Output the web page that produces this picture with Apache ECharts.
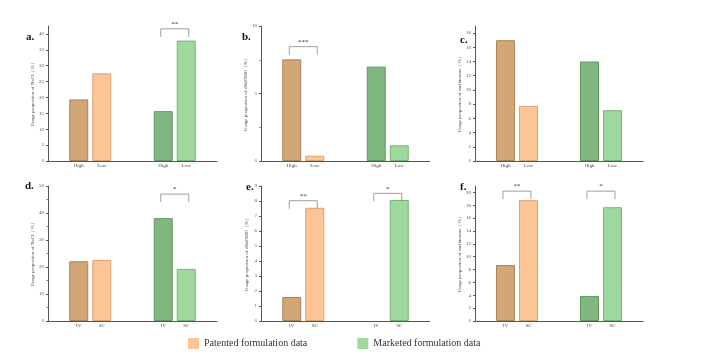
<!DOCTYPE html>
<html><head><meta charset="utf-8">
<script src="https://cdn.jsdelivr.net/npm/echarts@6/dist/echarts.min.js"></script>
<style>html,body{margin:0;padding:0;background:#fff}#c{width:705px;height:360px}</style>
</head><body><div id="c"></div>
<script>
// ---- data ----
const groupCats = ['Patented', 'Marketed'];
const levelCats = ['High', 'Low'];
const routeCats = ['IV', 'SC'];
const panelLetters = ['a.', 'b.', 'c.', 'd.', 'e.', 'f.'];
const axisNames = [
  'Usage proportion of NaCl（%）',
  'Usage proportion of rHuPH20（%）',
  'Usage proportion of methionine（%）',
  'Usage proportion of NaCl（%）',
  'Usage proportion of rHuPH20（%）',
  'Usage proportion of methionine（%）'
];
// first bar of each pair (High / IV), for [patented, marketed]
const aFirst = [19.4, 15.7];  const aSecond = [27.6, 37.9];
const bFirst = [7.53, 6.99];  const bSecond = [0.39, 1.16];
const cFirst = [17.0, 14.0];  const cSecond = [7.76, 7.15];
const dFirst = [22.1, 38.1];  const dSecond = [22.6, 19.3];
const eFirst = [1.6, 0];      const eSecond = [7.55, 8.07];
const fFirst = [8.7, 3.9];    const fSecond = [18.8, 17.7];
const yMax = [42.5, 10, 19, 50, 9, 21];
const yStep = [5, 5, 2, 10, 1, 2];
// significance brackets: [panel, group index, level, label]
const sigPanel = [0, 1, 3, 4, 4, 5, 5];
const sigGroup = [1, 0, 1, 0, 1, 0, 1];
const sigLevel = [41.6, 8.47, 47.0, 8.02, 8.51, 20.2, 20.2];
const sigText = ['**', '***', '*', '**', '*', '**', '*'];
const legendNames = ['Patented formulation data', 'Marketed formulation data'];

// ---- layout/styles ----
const firsts = [aFirst, bFirst, cFirst, dFirst, eFirst, fFirst];
const seconds = [aSecond, bSecond, cSecond, dSecond, eSecond, fSecond];
const font = 'Liberation Serif';
const lefts = [48, 261, 475];
const widths = [169, 169, 168];
const tops = [26, 186];
const H = 135;
const fillDark = ['#d3a676', '#80b781'];
const borderDark = ['#a9845c', '#5f9a60'];
const fillLight = ['#fdc595', '#9fd89d'];
const borderLight = ['#dba274', '#74b474'];
const BW = 19, GAP = 4;

const grids = [], xAxes = [], yAxes = [], series = [], titles = [];
const titlePos = [[21, 27], [237, 27], [455, 30], [20, 176], [241, 177], [455, 177]];
for (let i = 0; i < 6; i++) {
  const col = i % 3, row = Math.floor(i / 3);
  grids.push({ left: lefts[col], top: tops[row], width: widths[col], height: H });
  xAxes.push({
    gridIndex: i, type: 'category', data: groupCats, boundaryGap: true,
    axisLine: { lineStyle: { color: '#555', width: 1 } },
    axisTick: { show: false }, axisLabel: { show: false }
  });
  yAxes.push({
    gridIndex: i, type: 'value', min: 0, max: yMax[i], interval: yStep[i],
    name: axisNames[i], nameLocation: 'middle', nameGap: 12, nameRotate: 90,
    nameTextStyle: { fontSize: 5, fontFamily: font, color: '#444' },
    axisLine: { show: true, lineStyle: { color: '#555', width: 1 } },
    axisTick: { show: true, length: 2, lineStyle: { color: '#555' } },
    minorTick: { show: (i === 1 || i === 3), splitNumber: 2, length: 1.5, lineStyle: { color: '#777' } },
    axisLabel: { fontSize: 5, fontFamily: font, color: '#555', margin: 4, showMaxLabel: (yMax[i] % yStep[i] === 0) },
    splitLine: { show: false }
  });
  const cats = row === 0 ? levelCats : routeCats;
  series.push({
    type: 'bar', xAxisIndex: i, yAxisIndex: i, barWidth: BW, barGap: (GAP / BW * 100) + '%',
    data: firsts[i].map((v, g) => ({ value: v, itemStyle: { color: fillDark[g], borderColor: borderDark[g], borderWidth: v > 0 ? 1 : 0 } })),
    label: { show: true, position: 'bottom', distance: 2, formatter: () => cats[0], fontSize: 5, fontFamily: font, color: '#444' },
    silent: true, animation: false
  });
  series.push({
    type: 'bar', xAxisIndex: i, yAxisIndex: i, barWidth: BW, barGap: (GAP / BW * 100) + '%',
    data: seconds[i].map((v, g) => ({ value: v, itemStyle: { color: fillLight[g], borderColor: borderLight[g], borderWidth: v > 0 ? 1 : 0 } })),
    label: { show: true, position: 'bottom', distance: 2, formatter: () => cats[1], fontSize: 5, fontFamily: font, color: '#444' },
    silent: true, animation: false
  });
  titles.push({ text: panelLetters[i], left: titlePos[i][0], top: titlePos[i][1],
    textStyle: { fontSize: 11, fontWeight: 'bold', fontFamily: font, color: '#111' } });
  // brackets
  const sdata = [];
  sigPanel.forEach((p, k) => { if (p === i) sdata.push([sigGroup[k], sigLevel[k], sigText[k]]); });
  if (sdata.length) {
    series.push({
      type: 'custom', xAxisIndex: i, yAxisIndex: i, silent: true, animation: false, z: 5,
      data: sdata,
      renderItem: function (params, api) {
        const p = api.coord([api.value(0), api.value(1)]);
        const half = (BW + GAP) / 2 + 2.5;
        const leg = 8;
        return {
          type: 'group',
          children: [
            { type: 'polyline', shape: { points: [[p[0] - half, p[1] + leg], [p[0] - half, p[1]], [p[0] + half, p[1]], [p[0] + half, p[1] + leg]] },
              style: { stroke: '#888', lineWidth: 0.8, fill: null } },
            { type: 'text', style: { text: sdata[params.dataIndex][2], x: p[0], y: p[1] - 1, align: 'center', verticalAlign: 'bottom',
              fontSize: 7, fontFamily: font, fill: '#333' } }
          ]
        };
      }
    });
  }
}
// legend carrier series
legendNames.forEach((n, k) => {
  series.push({ type: 'line', name: n, xAxisIndex: 0, yAxisIndex: 0, data: [], itemStyle: { color: fillLight[k] } });
});

const chart = echarts.init(document.getElementById('c'), null, { renderer: 'canvas' });
chart.setOption({
  backgroundColor: '#fff',
  animation: false,
  title: titles,
  grid: grids,
  xAxis: xAxes,
  yAxis: yAxes,
  legend: {
    data: legendNames.map(n => ({ name: n, icon: 'rect' })),
    left: 183, top: 333, itemWidth: 11, itemHeight: 11, itemGap: 50,
    textStyle: { fontSize: 10, fontFamily: font, color: '#333' }
  },
  series: series
});
</script></body></html>
